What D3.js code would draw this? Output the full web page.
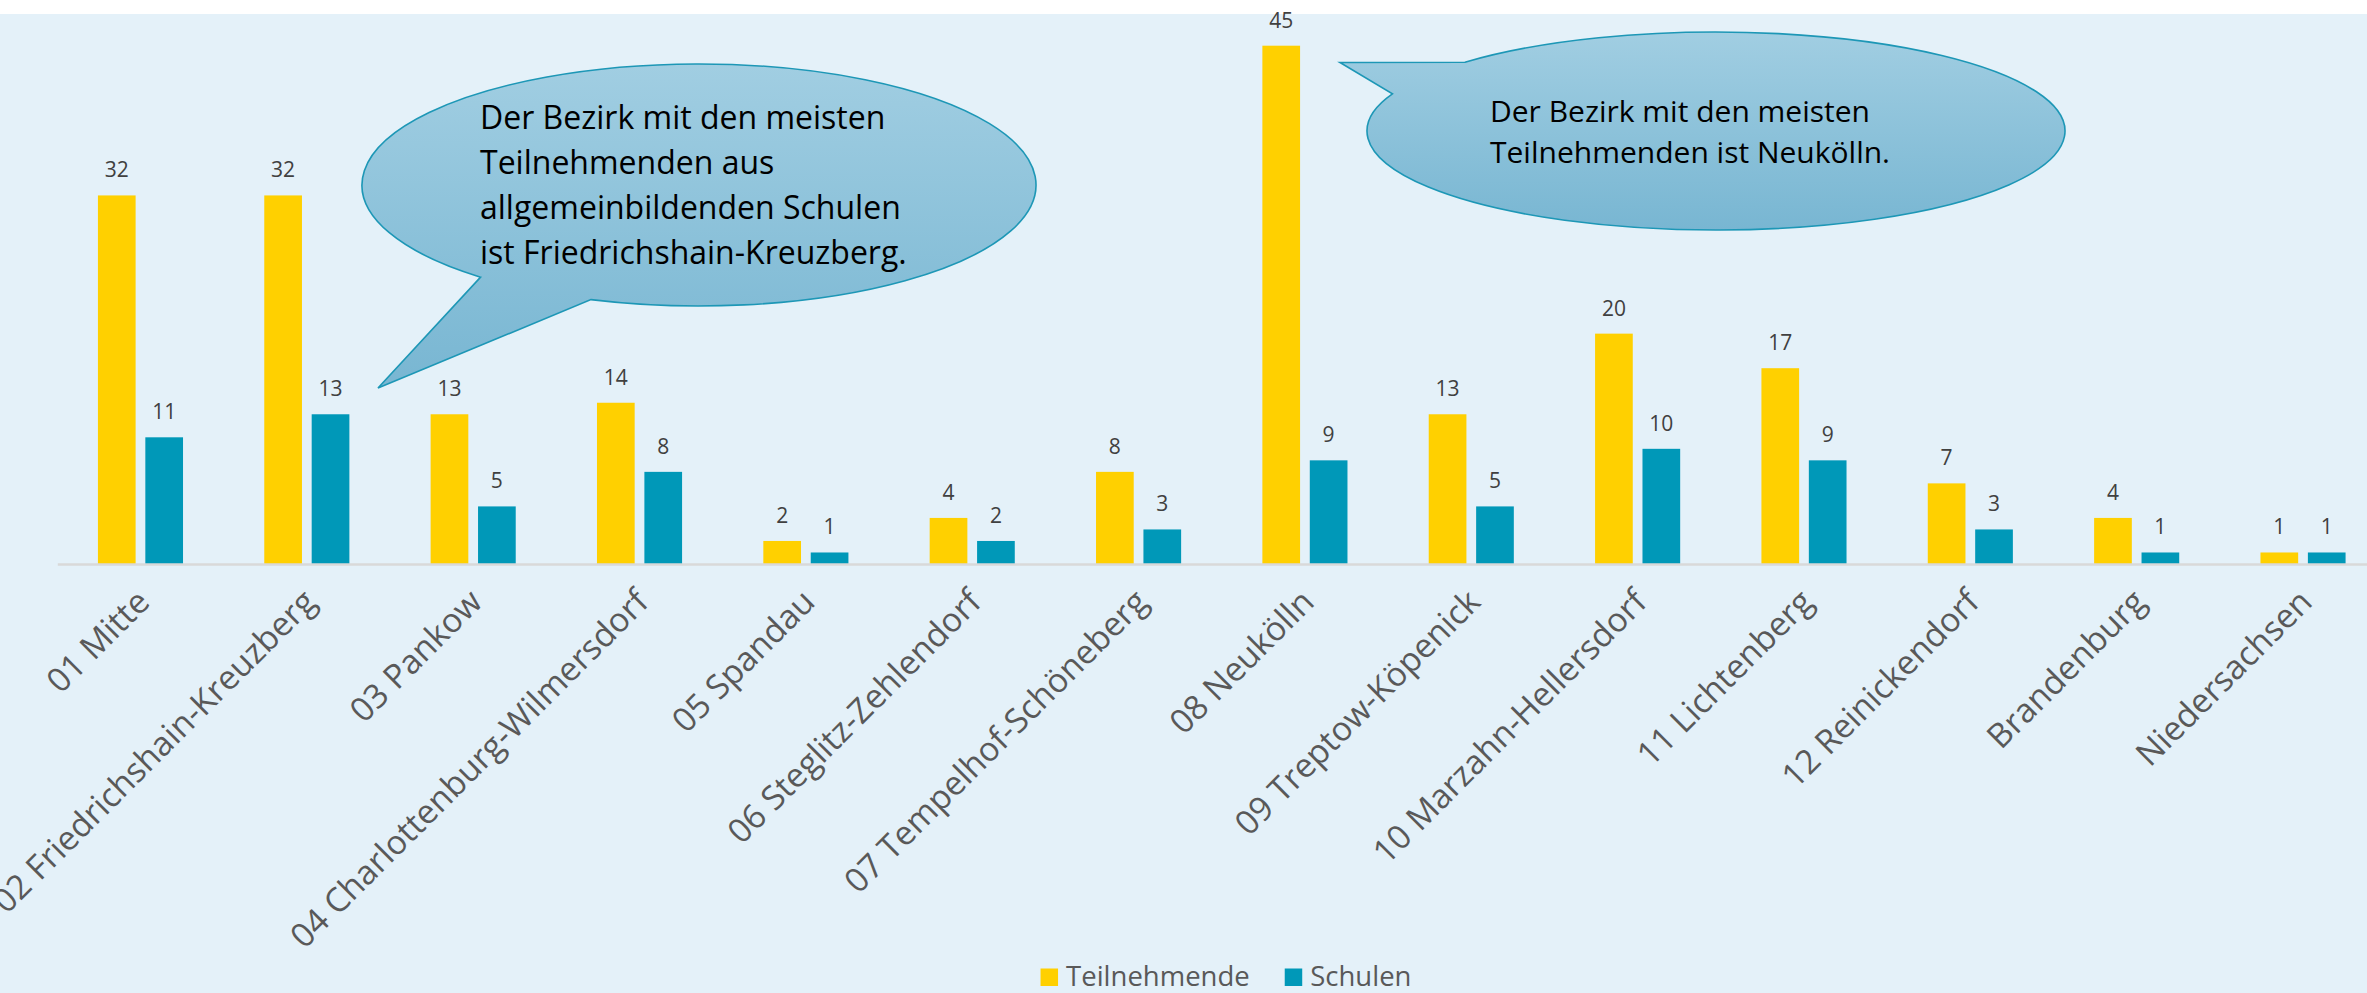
<!DOCTYPE html>
<html>
<head>
<meta charset="utf-8">
<title>Teilnehmende und Schulen nach Bezirk</title>
<script src="https://cdn.jsdelivr.net/npm/d3@7"></script>
<style>
  body { margin: 0; background: #fff; }
  svg { display: block; font-family: "Open Sans", sans-serif; }
</style>
</head>
<body>
<svg width="2367" height="993" id="mainsvg"></svg>
<script>
// Daten
const categories = ['01 Mitte', '02 Friedrichshain-Kreuzberg', '03 Pankow', '04 Charlottenburg-Wilmersdorf',
  '05 Spandau', '06 Steglitz-Zehlendorf', '07 Tempelhof-Schöneberg', '08 Neukölln', '09 Treptow-Köpenick',
  '10 Marzahn-Hellersdorf', '11 Lichtenberg', '12 Reinickendorf', 'Brandenburg', 'Niedersachsen'];
const teilnehmende = [32, 32, 13, 14, 2, 4, 8, 45, 13, 20, 17, 7, 4, 1];
const schulen = [11, 13, 5, 8, 1, 2, 3, 9, 5, 10, 9, 3, 1, 1];
const seriesNames = ['Teilnehmende', 'Schulen'];
const seriesColors = ['#ffd000', '#0098b8'];

// Sprechblasen (nur Layout)
const callouts = [
  {lines: ['Der Bezirk mit den meisten', 'Teilnehmenden aus', 'allgemeinbildenden Schulen', 'ist Friedrichshain-Kreuzberg.'],
   cx: 699, cy: 185, rx: 337, ry: 121, a1: 130.4, a2: 108.7, tip: [378, 388], tx: 480, ty: 129, lh: 45, fs: 32},
  {lines: ['Der Bezirk mit den meisten', 'Teilnehmenden ist Neukölln.'],
   cx: 1716, cy: 131, rx: 349, ry: 99, a1: 224, a2: 202, tip: [1340, 62.5], tx: 1490, ty: 121.5, lh: 41.7, fs: 30}
];

const svg = d3.select('#mainsvg');
const width = +svg.attr('width'), height = +svg.attr('height');

svg.append('rect').attr('width', width).attr('height', height).attr('fill', '#fff');
svg.append('rect').attr('y', 14).attr('width', width).attr('height', height - 14).attr('fill', '#e4f1f9');

const data = categories.map((c, i) => ({cat: c, values: [teilnehmende[i], schulen[i]]}));

const x = d3.scaleBand().domain(categories).range([57.3, 57.3 + 166.35 * categories.length]).padding(0);
const xs = d3.scaleBand().domain(seriesNames)
  .range([x.bandwidth() / 2 - 42.55, x.bandwidth() / 2 + 42.55]).paddingInner(0.205);
const y = d3.scaleLinear().domain([0, 45]).range([564, 45.7]);

// Balken
const groups = svg.append('g').selectAll('g').data(data).join('g')
  .attr('transform', d => `translate(${x(d.cat)},0)`);

groups.selectAll('rect').data(d => d.values.map((v, k) => ({v, k}))).join('rect')
  .attr('x', d => xs(seriesNames[d.k]))
  .attr('width', xs.bandwidth())
  .attr('y', d => y(d.v))
  .attr('height', d => y(0) - y(d.v))
  .attr('fill', d => seriesColors[d.k]);

groups.selectAll('text').data(d => d.values.map((v, k) => ({v, k}))).join('text')
  .attr('x', d => xs(seriesNames[d.k]) + xs.bandwidth() / 2)
  .attr('y', d => y(d.v) - 18)
  .attr('text-anchor', 'middle')
  .attr('font-size', 21)
  .attr('fill', '#404040')
  .text(d => d.v);

// x-Achse
const xAxis = svg.append('g').attr('transform', 'translate(0,564)')
  .call(d3.axisBottom(x).tickSize(0).tickPadding(0));
xAxis.select('.domain').attr('stroke', '#d9d9d9').attr('stroke-width', 2.5);
xAxis.selectAll('.tick text')
  .attr('y', 0).attr('dy', 0)
  .attr('text-anchor', 'end')
  .attr('transform', 'translate(11,40) rotate(-45)')
  .attr('font-size', 33.5)
  .attr('font-family', '"Open Sans", sans-serif')
  .attr('fill', '#595959');

// Sprechblasen
const defs = svg.append('defs');
const grad = defs.append('linearGradient').attr('id', 'bubble').attr('x1', 0).attr('y1', 0).attr('x2', 0).attr('y2', 1);
grad.append('stop').attr('offset', '0%').attr('stop-color', '#a1cee2');
grad.append('stop').attr('offset', '100%').attr('stop-color', '#78b6d2');

const pt = (c, a) => [c.cx + c.rx * Math.cos(a * Math.PI / 180), c.cy + c.ry * Math.sin(a * Math.PI / 180)];

callouts.forEach(c => {
  const p1 = pt(c, c.a1), p2 = pt(c, c.a2);
  const path = `M${p1}L${c.tip}L${p2}A${c.rx},${c.ry} 0 1 0 ${p1}Z`;
  svg.append('path').attr('d', path)
    .attr('fill', 'url(#bubble)')
    .attr('stroke', '#1d97b6')
    .attr('stroke-width', 1.6)
    .attr('stroke-linejoin', 'miter');
  svg.append('g').selectAll('text').data(c.lines).join('text')
    .attr('x', c.tx)
    .attr('y', (d, i) => c.ty + i * c.lh)
    .attr('font-size', c.fs)
    .attr('fill', '#000')
    .text(d => d);
});

// Legende
const legend = svg.append('g');
let lx = 0;
seriesNames.forEach((name, k) => {
  const item = legend.append('g').attr('transform', `translate(${lx},0)`);
  item.append('rect').attr('y', -17.5).attr('width', 17.5).attr('height', 17.5).attr('fill', seriesColors[k]);
  const t = item.append('text').attr('x', 25.5).attr('y', 0)
    .attr('font-size', 27.5).attr('fill', '#595959').text(name);
  lx += 25.5 + t.node().getComputedTextLength() + 35;
});
const lw = lx - 35;
legend.attr('transform', `translate(${1226 - lw / 2},986)`);
</script>
</body>
</html>
